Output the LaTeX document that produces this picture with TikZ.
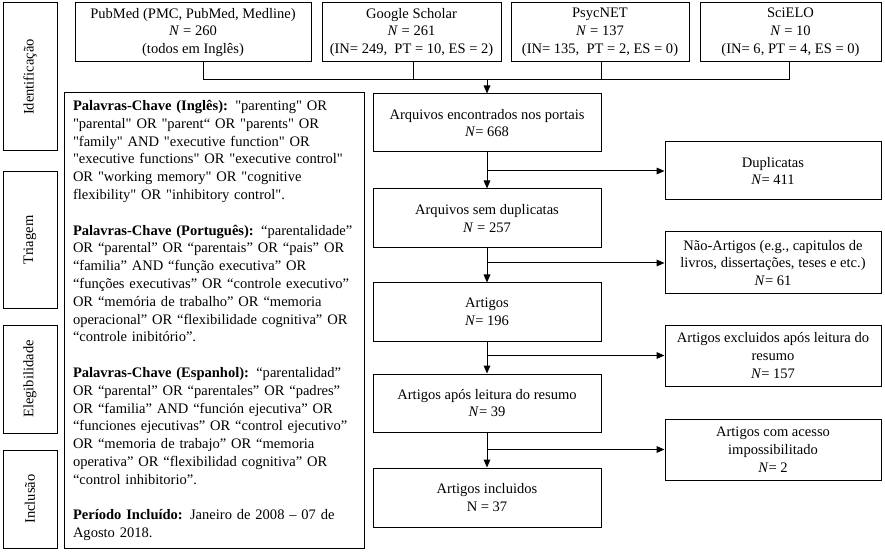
\documentclass[tikz,border=0pt]{standalone}
\usepackage{fontspec}
\setmainfont{Liberation Serif}
\usetikzlibrary{arrows.meta}
\newcommand\jl[1]{\makebox[\linewidth][s]{#1}\\}
\newcommand\dq{\XeTeXglyph\XeTeXcharglyph"0022\relax}
\tikzset{
  box/.style={draw, line width=0.75pt, inner sep=0pt, align=center,
    font=\fontsize{10.9}{13.35}\selectfont},
  side/.style={box, minimum width=40.5pt},
  topbox/.style={box, minimum height=44.25pt},
  flow/.style={box, minimum width=171pt},
  rbox/.style={box, minimum width=162pt},
  conn/.style={line width=0.75pt},
  arr/.style={conn, -{Triangle[length=6pt,width=5pt]}}
}
\begin{document}
\begin{tikzpicture}[x=0.75pt,y=-0.75pt]
\useasboundingbox (0,0) rectangle (885,552);
% side phase boxes
\node[side, minimum height=111pt] (s1) at (30,77) {\rotatebox{90}{Identificação}};
\node[side, minimum height=102pt] (s2) at (30,240) {\rotatebox{90}{Triagem}};
\node[side, minimum height=81pt] (s3) at (30,379) {\rotatebox{90}{Elegibilidade}};
\node[side, minimum height=73.5pt] (s4) at (30,499) {\rotatebox{90}{Inclusão}};
% top source boxes
\node[topbox, minimum width=177pt] (t1) at (193,32.5) {PubMed (PMC, PubMed, Medline)\\\textit{N} = 260\\(todos em Inglês)};
\node[topbox, minimum width=134.25pt] (t2) at (411.5,32.5) {Google Scholar\\\textit{N} = 261\\(IN= 249,\ \ PT = 10, ES = 2)};
\node[topbox, minimum width=133.5pt] (t3) at (600,32.5) {PsycNET\\\textit{N} = 137\\(IN= 135,\ \ PT = 2, ES = 0)};
\node[topbox, minimum width=135.75pt] (t4) at (790.5,32.5) {SciELO\\\textit{N} = 10\\(IN= 6, PT = 4, ES = 0)};
% keyword box
\node[box, minimum width=225pt, minimum height=341.25pt, text width=211.5pt, align=left] (k) at (214,320.5) {%
\jl{\textbf{Palavras-Chave (Inglês):} \dq parenting\dq{} OR}
\jl{\dq parental\dq{} OR \dq parent“ OR \dq parents\dq{} OR}
\jl{\dq family\dq{} AND \dq executive function\dq{} OR}
\jl{\dq executive functions\dq{} OR \dq executive control\dq}
\jl{OR \dq working memory\dq{} OR \dq cognitive}
flexibility\dq{} OR \dq inhibitory control\dq.\\[13.35pt]
\jl{\textbf{Palavras-Chave (Português):} “parentalidade”}
\jl{OR “parental” OR “parentais” OR “pais” OR}
\jl{“familia” AND “função executiva” OR}
\jl{“funções executivas” OR “controle executivo”}
\jl{OR “memória de trabalho” OR “memoria}
\jl{operacional” OR “flexibilidade cognitiva” OR}
“controle inibitório”.\\[13.35pt]
\jl{\textbf{Palavras-Chave (Espanhol):} “parentalidad”}
\jl{OR “parental” OR “parentales” OR “padres”}
\jl{OR “familia” AND “función ejecutiva” OR}
\jl{“funciones ejecutivas” OR “control ejecutivo”}
\jl{OR “memoria de trabajo” OR “memoria}
\jl{operativa” OR “flexibilidad cognitiva” OR}
“control inhibitorio”.\\[13.35pt]
\jl{\textbf{Período Incluído:} Janeiro de 2008 – 07 de}
Agosto 2018.};
% main flow
\node[flow, minimum height=43.5pt] (b1) at (487,123) {Arquivos encontrados nos portais\\\textit{N}= 668};
\node[flow, minimum height=44.25pt] (b2) at (487,218.5) {Arquivos sem duplicatas\\\textit{N} = 257};
\node[flow, minimum height=43.5pt] (b3) at (487,312) {Artigos\\\textit{N}= 196};
\node[flow, minimum height=43.5pt] (b4) at (487,403) {Artigos após leitura do resumo\\\textit{N}= 39};
\node[flow, minimum height=44.25pt] (b5) at (487,497.5) {Artigos incluidos\\N = 37};
% right exclusion boxes
\node[rbox, minimum height=43.5pt] (r1) at (773,171) {Duplicatas\\\textit{N}= 411};
\node[rbox, minimum height=46.5pt] (r2) at (773,263) {Não-Artigos (e.g., capitulos de\\livros, dissertações, teses e etc.)\\\textit{N}= 61};
\node[rbox, minimum height=45.75pt] (r3) at (773,355.5) {Artigos excluidos após leitura do\\resumo\\\textit{N}= 157};
\node[rbox, minimum height=45.75pt] (r4) at (773,449.5) {Artigos com acesso\\impossibilitado\\\textit{N}= 2};
% top connectors
\coordinate (d1) at (203,80);
\coordinate (d2) at (413,80);
\coordinate (d3) at (601,80);
\coordinate (d4) at (789,80);
\coordinate (dm) at (487,80);
\draw[conn] (t1.south -| d1) -- (d1) -- (d4) -- (t4.south -| d4);
\draw[conn] (t2.south -| d2) -- (d2);
\draw[conn] (t3.south -| d3) -- (d3);
\draw[arr] (dm) -- (b1.north);
% flow connectors
\draw[arr] (b1) -- (b2);
\draw[arr] (b2) -- (b3);
\draw[arr] (b3) -- (b4);
\draw[arr] (b4) -- (b5);
\draw[arr] (b1.south |- r1.west) -- (r1.west);
\draw[arr] (b2.south |- r2.west) -- (r2.west);
\draw[arr] (b3.south |- r3.west) -- (r3.west);
\draw[arr] (b4.south |- r4.west) -- (r4.west);
\end{tikzpicture}
\end{document}
